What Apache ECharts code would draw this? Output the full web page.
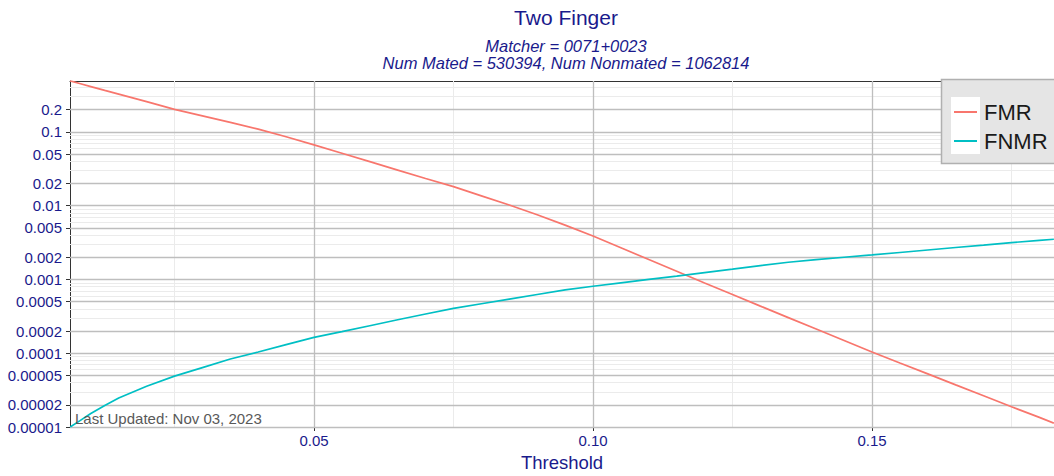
<!DOCTYPE html>
<html>
<head>
<meta charset="utf-8">
<script src="https://cdn.jsdelivr.net/npm/echarts@6/dist/echarts.min.js"></script>
<style>html,body{margin:0;padding:0;background:#fff}#c{width:1054px;height:476px}</style>
</head>
<body>
<div id="c"></div>
<script>
// ---- data ----
const thresholds = [0.0063, 0.008, 0.01, 0.0125, 0.015, 0.02, 0.025, 0.03, 0.035, 0.04, 0.045, 0.05,
  0.055, 0.06, 0.065, 0.07, 0.075, 0.08, 0.085, 0.09, 0.095, 0.10,
  0.105, 0.11, 0.115, 0.12, 0.125, 0.13, 0.135, 0.14, 0.145, 0.15,
  0.155, 0.16, 0.165, 0.17, 0.175, 0.18, 0.1826];
const fmr = [0.491, 0.453, 0.412, 0.366, 0.326, 0.257, 0.202, 0.165, 0.135, 0.109, 0.0859, 0.0667,
  0.0513, 0.0395, 0.0304, 0.0234, 0.0181, 0.0136, 0.0102, 0.00755, 0.00545, 0.00389,
  0.00269, 0.00186, 0.00129, 0.000893, 0.000624, 0.000435, 0.000304, 0.000213, 0.000149, 0.000104,
  0.0000738, 0.0000525, 0.0000372, 0.0000265, 0.0000188, 0.0000135, 0.0000113];
const fnmr = [0.00001, 0.0000121, 0.0000152, 0.0000196, 0.0000247, 0.0000356, 0.0000489, 0.0000639, 0.0000834, 0.000104, 0.000131, 0.000164,
  0.000196, 0.000236, 0.000284, 0.00034, 0.000406, 0.000469, 0.000542, 0.000626, 0.000721, 0.000809,
  0.000899, 0.001, 0.00111, 0.00124, 0.00138, 0.00154, 0.00171, 0.00186, 0.002, 0.00215,
  0.00232, 0.00251, 0.00271, 0.00292, 0.00316, 0.00339, 0.00351];
const xTickValues = [0.05, 0.10, 0.15];
const xTickLabels = ['0.05', '0.10', '0.15'];
const xMinorLines = [0.025, 0.075, 0.125, 0.175];
const yTickValues = [0.00001, 0.00002, 0.00005, 0.0001, 0.0002, 0.0005, 0.001, 0.002, 0.005, 0.01, 0.02, 0.05, 0.1, 0.2];
const yTickLabels = ['0.00001', '0.00002', '0.00005', '0.0001', '0.0002', '0.0005', '0.001', '0.002', '0.005', '0.01', '0.02', '0.05', '0.1', '0.2'];
const yMinorLines = [0.00003, 0.00004, 0.00006, 0.00007, 0.00008, 0.00009,
  0.0003, 0.0004, 0.0006, 0.0007, 0.0008, 0.0009,
  0.003, 0.004, 0.006, 0.007, 0.008, 0.009,
  0.03, 0.04, 0.06, 0.07, 0.08, 0.09,
  0.3, 0.4];

// ---- chart ----
const NAVY = '#1a1a8c';
const FONT = '"Liberation Sans", Arial, sans-serif';
const chart = echarts.init(document.getElementById('c'), null, {renderer: 'svg'});

const gridLines = [];
yMinorLines.forEach(v => gridLines.push({yAxis: v, lineStyle: {color: '#ebebeb', width: 1, type: 'solid'}}));
xMinorLines.forEach(v => gridLines.push({xAxis: v, lineStyle: {color: '#ebebeb', width: 1, type: 'solid'}}));
yTickValues.forEach(v => gridLines.push({yAxis: v, lineStyle: {color: '#bebebe', width: 1.3, type: 'solid'}}));
xTickValues.forEach(v => gridLines.push({xAxis: v, lineStyle: {color: '#bebebe', width: 1.3, type: 'solid'}}));

function lookup(vals, labels, v) {
  const i = vals.findIndex(t => Math.abs(t - v) <= Math.abs(t) * 1e-6);
  return i >= 0 ? labels[i] : '';
}

chart.setOption({
  animation: false,
  textStyle: {fontFamily: FONT},
  title: {
    text: 'Two Finger',
    subtext: 'Matcher = 0071+0023\nNum Mated = 530394, Num Nonmated = 1062814',
    left: 566, top: 6, textAlign: 'center', padding: 0, itemGap: 9,
    textStyle: {color: NAVY, fontSize: 21, lineHeight: 22, fontWeight: 'normal', fontFamily: FONT},
    subtextStyle: {color: NAVY, fontSize: 16.5, fontStyle: 'italic', lineHeight: 17.5, fontFamily: FONT}
  },
  legend: {
    data: ['FMR', 'FNMR'], orient: 'vertical', left: 954, top: 101, padding: 0,
    itemWidth: 23, itemHeight: 2, itemGap: 7, icon: 'rect', z: 10,
    textStyle: {fontSize: 22, lineHeight: 22, color: '#1a1a1a', fontFamily: FONT, padding: [0, 0, 0, 2]}
  },
  grid: {left: 70, right: 0, top: 81, bottom: 49, containLabel: false, outerBoundsMode: 'none'},
  xAxis: [{
    type: 'value', min: 0.00627, max: 0.18262,
    name: 'Threshold', nameLocation: 'middle', nameGap: 24,
    nameTextStyle: {color: NAVY, fontSize: 18.5, fontFamily: FONT, verticalAlign: 'top'},
    axisLine: {show: true, onZero: false, lineStyle: {color: '#333', width: 1}},
    axisTick: {show: true, customValues: xTickValues, length: 4, lineStyle: {color: '#333', width: 1}},
    axisLabel: {customValues: xTickValues, color: NAVY, fontSize: 15, margin: 6,
      formatter: v => lookup(xTickValues, xTickLabels, v)},
    splitLine: {show: false}
  }, {
    type: 'value', position: 'top', min: 0.00627, max: 0.18262,
    axisLine: {show: true, onZero: false, lineStyle: {color: '#333', width: 1}},
    axisTick: {show: false}, axisLabel: {show: false}, splitLine: {show: false}
  }],
  yAxis: {
    type: 'log', logBase: 10, min: 0.00001, max: 0.49,
    axisLine: {show: true, onZero: false, lineStyle: {color: '#333', width: 1}},
    axisTick: {show: true, customValues: yTickValues, length: 4, lineStyle: {color: '#333', width: 1}},
    axisLabel: {customValues: yTickValues, color: NAVY, fontSize: 15, margin: 8,
      formatter: v => lookup(yTickValues, yTickLabels, v)},
    splitLine: {show: false}, minorSplitLine: {show: false}
  },
  graphic: [
    {type: 'rect', z: 20, shape: {x: 941.5, y: 79.5, width: 130, height: 84},
      style: {fill: '#e5e5e5', stroke: '#b0b0b0', lineWidth: 1.5}},
    {type: 'rect', z: 21, shape: {x: 951, y: 97, width: 29, height: 57},
      style: {fill: '#ffffff'}},
    {type: 'text', z: 21, left: 75, top: 411,
      style: {text: 'Last Updated: Nov 03, 2023', fill: '#595959', fontSize: 15, fontFamily: FONT}}
  ],
  series: [
    {type: 'line', name: 'grid', data: [], z: 1, silent: true,
      markLine: {silent: true, precision: 10, symbol: ['none', 'none'], label: {show: false}, animation: false, data: gridLines}},
    {type: 'line', name: 'FMR', z: 10, showSymbol: false, symbol: 'none', color: '#F8766D',
      lineStyle: {width: 1.7, color: '#F8766D'},
      data: thresholds.map((t, i) => [t, fmr[i]])},
    {type: 'line', name: 'FNMR', z: 10, showSymbol: false, symbol: 'none', color: '#00BFC4',
      lineStyle: {width: 1.7, color: '#00BFC4'},
      data: thresholds.map((t, i) => [t, fnmr[i]])}
  ]
});
chart.setOption({legend: {z: 30}});
</script>
</body>
</html>
